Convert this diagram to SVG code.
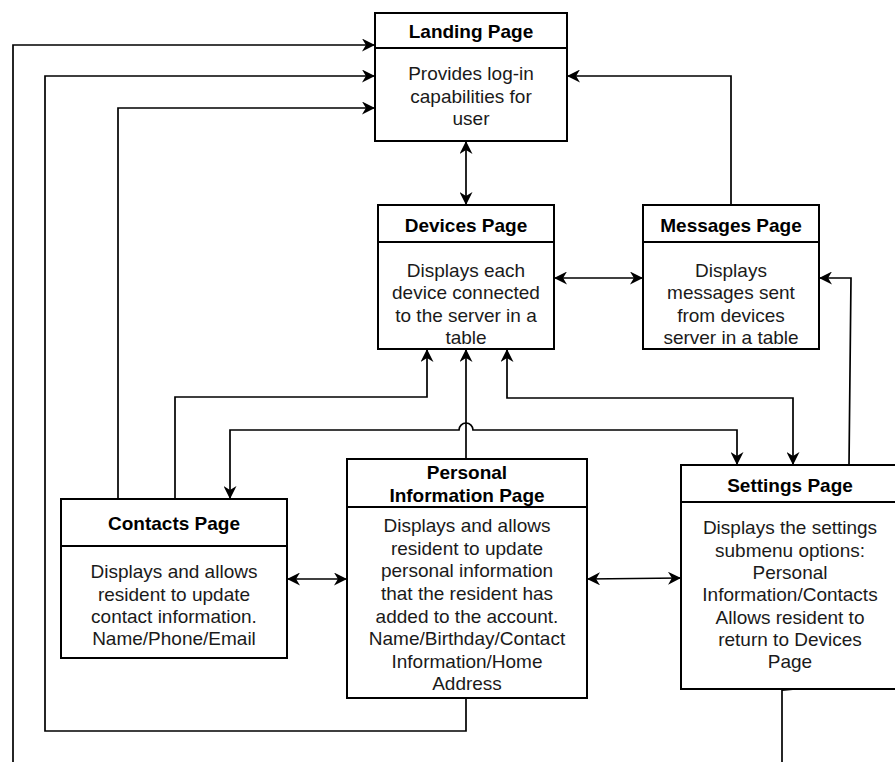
<svg xmlns="http://www.w3.org/2000/svg" width="895" height="762" viewBox="0 0 895 762">
  <style>
    .box { fill: #ffffff; stroke: #000000; stroke-width: 2; }
    .div { stroke: #000000; stroke-width: 2; fill: none; }
    .title { font-family: "Liberation Sans", Arial, sans-serif; font-size: 19px; font-weight: bold; fill: #000000; text-anchor: middle; }
    .body { font-family: "Liberation Sans", Arial, sans-serif; font-size: 19px; fill: #1a1a1a; text-anchor: middle; }
    .edge { fill: none; stroke: #000000; stroke-width: 1.7; }
    .one { marker-end: url(#arrow); }
    .two { marker-start: url(#arrow); marker-end: url(#arrow); }
  </style>
  <defs>
    <marker id="arrow" viewBox="0 0 10 10" refX="10" refY="5" markerWidth="14" markerHeight="13" markerUnits="userSpaceOnUse" orient="auto-start-reverse">
      <path d="M0,0 L10,5 L0,10 L3,5 Z" fill="#000000"/>
    </marker>
  </defs>
  <rect width="895" height="762" fill="#ffffff"/>

  <g id="connectors">
    <!-- returns to the landing page from the left -->
    <path class="edge one" d="M13,762 V45 H375"/>
    <path class="edge one" d="M466,698 V731 H45 V76 H375"/>
    <path class="edge one" d="M118,499 V108 H375"/>
    <!-- landing / devices -->
    <path class="edge two" d="M466,141 V205"/>
    <!-- devices / messages -->
    <path class="edge two" d="M554,278 H643"/>
    <!-- messages back to landing -->
    <path class="edge one" d="M731,205 V76 H567"/>
    <!-- settings to messages -->
    <path class="edge one" d="M849,465 L851,278 H819"/>
    <!-- contacts to devices -->
    <path class="edge one" d="M175,499 V397 H427 V349"/>
    <!-- personal information to devices -->
    <path class="edge one" d="M466,459 V349"/>
    <!-- devices / settings -->
    <path class="edge two" d="M507,349 V398 H793 V465"/>
    <!-- contacts / settings, hopping over the vertical line -->
    <path class="edge two" d="M230,499 V430 H459 A7,7 0 0 1 473,430 H737 V465"/>
    <!-- contacts / personal information -->
    <path class="edge two" d="M287,579 H347"/>
    <!-- personal information / settings -->
    <path class="edge two" d="M587,579 L681,578"/>
    <!-- settings downward exit -->
    <path class="edge" d="M782,762 V690"/>
    <path d="M782,688.5 L793,690 L782,691 Z" fill="#000000"/>
  </g>

  <g id="landing">
    <rect class="box" x="375" y="13" width="192" height="128"/>
    <line class="div" x1="375" y1="48" x2="567" y2="48"/>
    <text class="title" x="471" y="38">Landing Page</text>
    <text class="body" x="471" y="80">Provides log-in</text>
    <text class="body" x="471" y="102.5">capabilities for</text>
    <text class="body" x="471" y="125">user</text>
  </g>

  <g id="devices">
    <rect class="box" x="378" y="205" width="176" height="144"/>
    <line class="div" x1="378" y1="242" x2="554" y2="242"/>
    <text class="title" x="466" y="232">Devices Page</text>
    <text class="body" x="466" y="276.5">Displays each</text>
    <text class="body" x="466" y="299">device connected</text>
    <text class="body" x="466" y="321.5">to the server in a</text>
    <text class="body" x="466" y="344">table</text>
  </g>

  <g id="messages">
    <rect class="box" x="643" y="205" width="176" height="144"/>
    <line class="div" x1="643" y1="242" x2="819" y2="242"/>
    <text class="title" x="731" y="232">Messages Page</text>
    <text class="body" x="731" y="276.5">Displays</text>
    <text class="body" x="731" y="299">messages sent</text>
    <text class="body" x="731" y="321.5">from devices</text>
    <text class="body" x="731" y="344">server in a table</text>
  </g>

  <g id="contacts">
    <rect class="box" x="61" y="499" width="226" height="159"/>
    <line class="div" x1="61" y1="546" x2="287" y2="546"/>
    <text class="title" x="174" y="530">Contacts Page</text>
    <text class="body" x="174" y="578">Displays and allows</text>
    <text class="body" x="174" y="600.5">resident to update</text>
    <text class="body" x="174" y="623">contact information.</text>
    <text class="body" x="174" y="645">Name/Phone/Email</text>
  </g>

  <g id="personal">
    <rect class="box" x="347" y="459" width="240" height="239"/>
    <line class="div" x1="347" y1="507" x2="587" y2="507"/>
    <text class="title" x="467" y="479">Personal</text>
    <text class="title" x="467" y="501.5">Information Page</text>
    <text class="body" x="467" y="532">Displays and allows</text>
    <text class="body" x="467" y="555">resident to update</text>
    <text class="body" x="467" y="577">personal information</text>
    <text class="body" x="467" y="600">that the resident has</text>
    <text class="body" x="467" y="623">added to the account.</text>
    <text class="body" x="467" y="645">Name/Birthday/Contact</text>
    <text class="body" x="467" y="668">Information/Home</text>
    <text class="body" x="467" y="690">Address</text>
  </g>

  <g id="settings">
    <rect class="box" x="681" y="465" width="219" height="224"/>
    <line class="div" x1="681" y1="502" x2="900" y2="502"/>
    <text class="title" x="790" y="492">Settings Page</text>
    <text class="body" x="790" y="534">Displays the settings</text>
    <text class="body" x="790" y="556.5">submenu options:</text>
    <text class="body" x="790" y="579">Personal</text>
    <text class="body" x="790" y="601">Information/Contacts</text>
    <text class="body" x="790" y="624">Allows resident to</text>
    <text class="body" x="790" y="646">return to Devices</text>
    <text class="body" x="790" y="668">Page</text>
  </g>
</svg>
